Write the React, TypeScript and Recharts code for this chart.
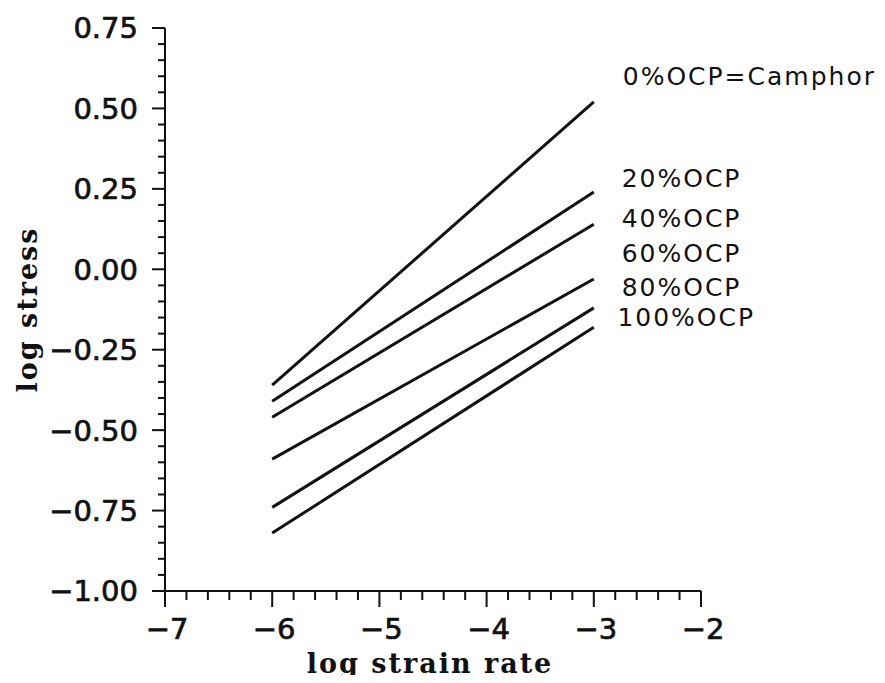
import { ComposedChart, Line, Scatter, XAxis, YAxis } from "recharts"

// x positions of the fitted lines (log strain rate)
const strainRate = [-6, -3]

// log stress at each end of the line, per OCP content
const ocp0 = [-0.36, 0.52]
const ocp20 = [-0.41, 0.24]
const ocp40 = [-0.46, 0.14]
const ocp60 = [-0.59, -0.03]
const ocp80 = [-0.74, -0.12]
const ocp100 = [-0.82, -0.18]

const seriesNames = ["0%OCP=Camphor", "20%OCP", "40%OCP", "60%OCP", "80%OCP", "100%OCP"]
const seriesValues = [ocp0, ocp20, ocp40, ocp60, ocp80, ocp100]

// where each line's name is written (data coordinates)
const labelX = [-2.73, -2.74, -2.74, -2.74, -2.74, -2.78]
const labelY = [0.6, 0.283, 0.159, 0.05, -0.056, -0.149]

const xMajorTicks = [-7, -6, -5, -4, -3, -2]
const yMajorTicks = [-1, -0.75, -0.5, -0.25, 0, 0.25, 0.5, 0.75]

function subdivide(major: number[], parts: number) {
  const out: number[] = []
  for (let i = 0; i < major.length - 1; i++) {
    const step = (major[i + 1] - major[i]) / parts
    for (let k = 0; k < parts; k++) out.push(+(major[i] + k * step).toFixed(4))
  }
  out.push(major[major.length - 1])
  return out
}

const xTicks = subdivide(xMajorTicks, 5)
const yTicks = subdivide(yMajorTicks, 5)

const data = strainRate.map((x, i) => {
  const row: Record<string, number> = { x }
  seriesValues.forEach((vals, s) => (row["s" + s] = vals[i]))
  return row
})

const labelData = seriesNames.map((name, i) => ({ x: labelX[i], y: labelY[i], name }))

const INK = "#111"
const tickFont = "'DejaVu Sans', sans-serif"
const titleFont = "'DejaVu Serif', serif"

const fmt = (v: number, digits: number) => (v < 0 ? "\u2212" + Math.abs(v).toFixed(digits) : v.toFixed(digits))

function YTick(props: any) {
  const { x, y, payload } = props
  const v = payload.value as number
  const major = Math.abs(v * 4 - Math.round(v * 4)) < 1e-6
  return (
    <g>
      <line x1={x} x2={x - (major ? 13 : 7)} y1={y} y2={y} stroke={INK} strokeWidth={2} />
      {major && (
        <text x={x - 27} y={y} dy="0.36em" textAnchor="end" fontFamily={tickFont} fontSize={29}
          fill={INK} stroke={INK} strokeWidth={0.7}>
          {fmt(v, 2)}
        </text>
      )}
    </g>
  )
}

function XTick(props: any) {
  const { x, y, payload } = props
  const v = payload.value as number
  const major = Math.abs(v - Math.round(v)) < 1e-6
  return (
    <g>
      <line x1={x} x2={x} y1={y} y2={y + (major ? 16 : 9)} stroke={INK} strokeWidth={2} />
      {major && (
        <text x={x + 2} y={y + 48} textAnchor="middle" fontFamily={tickFont} fontSize={29}
          fill={INK} stroke={INK} strokeWidth={0.7}>
          {fmt(v, 0)}
        </text>
      )}
    </g>
  )
}

function LineName(props: any) {
  const { cx, cy, payload } = props
  return (
    <text x={cx} y={cy} dy="0.36em" fontFamily={tickFont} fontSize={25} letterSpacing={2} fill={INK}>
      {payload.name}
    </text>
  )
}

export default function App() {
  return (
    <div style={{ margin: -8, background: "#fff" }}>
      <ComposedChart width={885} height={683} data={data} margin={{ top: 28, right: 184, left: 55, bottom: 2 }}>
        <XAxis
          dataKey="x"
          type="number"
          domain={[-7, -2]}
          ticks={xTicks}
          interval={0}
          tickSize={0}
          tickMargin={0}
          tickLine={false}
          tick={<XTick />}
          axisLine={{ stroke: INK, strokeWidth: 2 }}
          height={90}
          label={{
            content: (p: any) => (
              <text
                x={p.viewBox.x + p.viewBox.width / 2 - 3}
                y={p.viewBox.y + 82}
                textAnchor="middle"
                fontFamily={titleFont}
                fontWeight="bold"
                fontSize={27}
                letterSpacing={2}
                fill={INK}
              >
                log strain rate
              </text>
            ),
          }}
        />
        <YAxis
          type="number"
          domain={[-1, 0.75]}
          ticks={yTicks}
          interval={0}
          tickSize={0}
          tickMargin={0}
          tickLine={false}
          tick={<YTick />}
          axisLine={{ stroke: INK, strokeWidth: 2 }}
          width={110}
          label={{
            content: (p: any) => {
              const cx = p.viewBox.x - 28
              const cy = p.viewBox.y + p.viewBox.height / 2
              return (
                <text
                  x={cx}
                  y={cy}
                  dy="0.36em"
                  textAnchor="middle"
                  transform={`rotate(-90 ${cx} ${cy})`}
                  fontFamily={titleFont}
                  fontWeight="bold"
                  fontSize={27}
                  letterSpacing={2}
                  fill={INK}
                >
                  log stress
                </text>
              )
            },
          }}
        />
        {seriesNames.map((name, i) => (
          <Line
            key={name}
            name={name}
            dataKey={"s" + i}
            stroke={INK}
            strokeWidth={3}
            dot={false}
            isAnimationActive={false}
          />
        ))}
        <Scatter data={labelData} dataKey="y" shape={<LineName />} isAnimationActive={false} />
      </ComposedChart>
    </div>
  )
}
